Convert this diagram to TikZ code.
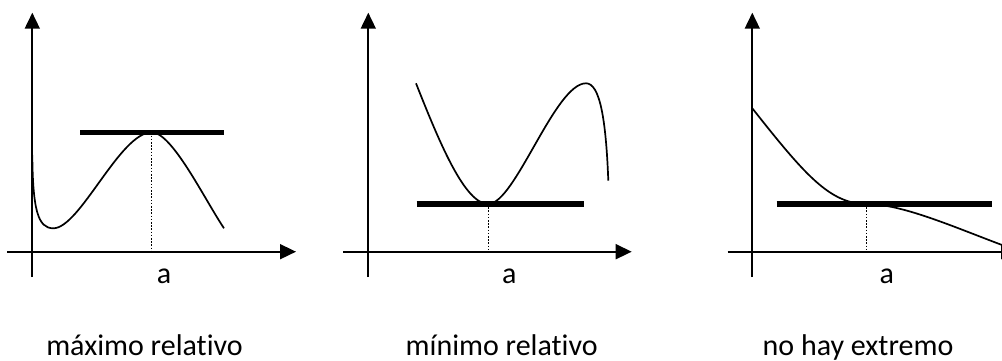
\documentclass[tikz,border=0pt]{standalone}
\usepackage{fontspec}
\setmainfont{Carlito}[Ligatures=NoCommon]
\usetikzlibrary{arrows.meta}

\tikzset{
  axis/.style={line width=0.85pt,-{Triangle[length=8pt,width=7.5pt]}},
  graphline/.style={line width=0.85pt},
  tangent/.style={line width=2.6pt},
  guide/.style={line width=0.6pt,dash pattern=on 0.8pt off 0.8pt},
  ticklabel/.style={font=\fontsize{15}{17}\selectfont,anchor=base,inner sep=0pt},
  caption/.style={font=\fontsize{15}{17}\selectfont,anchor=base,inner sep=0pt},
}

\begin{document}
\begin{tikzpicture}[x=0.5pt,y=0.5pt]
  \clip (0,0) rectangle (1002,360);

  % Left: relative maximum.
  \coordinate (ybot1) at (32.3,83);
  \coordinate (ytop1) at (32.3,347.3);
  \coordinate (xlft1) at (7,108.3);
  \coordinate (xrgt1) at (296,108.3);
  \coordinate (tanl1) at (80,227.7);
  \coordinate (tanr1) at (224,227.7);
  \coordinate (top1) at (151.7,227.7);
  \coordinate (foot1) at (151.7,108.3);
  \draw[axis] (ybot1) -- (ytop1);
  \draw[axis] (xlft1) -- (xrgt1);
  \draw[tangent] (tanl1) -- (tanr1);
  \draw[guide] (top1) -- (foot1);
  \draw[graphline] (32.3,205) .. controls (32.8,150) and (38,131.7) .. (53.3,131.7)
    .. controls (80,131.7) and (120,227.7) .. (top1)
    .. controls (172,227.7) and (204,161.7) .. (224,131.7);
  \node[ticklabel] (a1) at (164,76.7) {a};
  \node[caption] (cap1) at (144.5,4.5) {máximo relativo};

  % Middle: relative minimum.
  \coordinate (ybot2) at (368.3,83);
  \coordinate (ytop2) at (368.3,347.3);
  \coordinate (xlft2) at (343,108.3);
  \coordinate (xrgt2) at (631.7,108.3);
  \coordinate (tanl2) at (416.7,156);
  \coordinate (tanr2) at (584,156);
  \coordinate (low2) at (488.3,156);
  \coordinate (foot2) at (488.3,108.3);
  \draw[axis] (ybot2) -- (ytop2);
  \draw[axis] (xlft2) -- (xrgt2);
  \draw[tangent] (tanl2) -- (tanr2);
  \draw[guide] (low2) -- (foot2);
  \draw[graphline] (416,276.7) .. controls (440,216) and (465,156) .. (low2)
    .. controls (515,156) and (555,276.7) .. (586,276.7)
    .. controls (600,276.7) and (606,240) .. (608.3,179.3);
  \node[ticklabel] (a2) at (509.3,76.7) {a};
  \node[caption] (cap2) at (501.7,4.5) {mínimo relativo};

  % Right: no extremum (horizontal inflection).
  \coordinate (ybot3) at (752.3,83);
  \coordinate (ytop3) at (752.3,347.3);
  \coordinate (xlft3) at (727.7,108.3);
  \coordinate (xrgt3) at (1017,108.3);
  \coordinate (tanl3) at (776.7,156);
  \coordinate (tanr3) at (992.3,156);
  \coordinate (flat3) at (866.7,156);
  \coordinate (foot3) at (866.7,108.3);
  \draw[axis] (ybot3) -- (ytop3);
  \draw[axis] (xlft3) -- (xrgt3);
  \draw[tangent] (tanl3) -- (tanr3);
  \draw[guide] (flat3) -- (foot3);
  \draw[graphline] (752.3,251.7) .. controls (805,185) and (830,156) .. (flat3)
    .. controls (901.7,156) and (952,133.8) .. (1002,115) -- (1010,112);
  \node[ticklabel] (a3) at (886.7,76.7) {a};
  \node[caption] (cap3) at (858,4.5) {no hay extremo};
\end{tikzpicture}
\end{document}
